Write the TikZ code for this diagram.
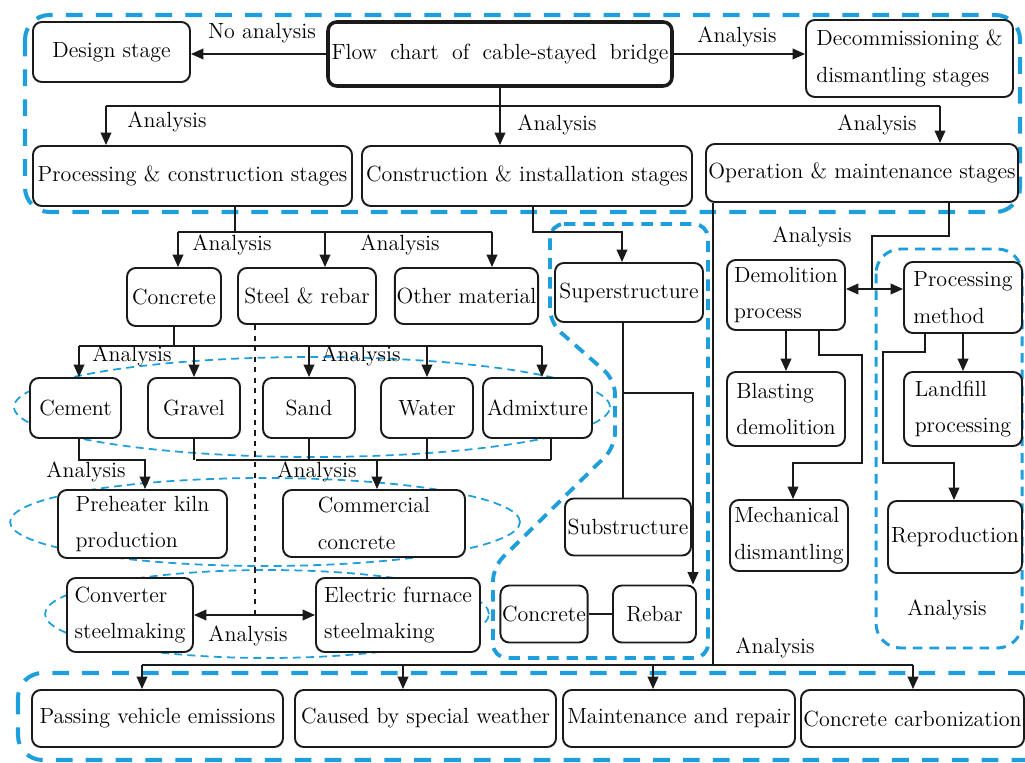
\documentclass[tikz,border=0pt]{standalone}
\usepackage{xcolor}
\usepackage{tikz}
\usetikzlibrary{arrows.meta}
\definecolor{DashBlue}{HTML}{1E9FDB}
\definecolor{InkBlack}{HTML}{1A1A1A}

\tikzset{
  box/.style={draw=InkBlack, line width=1.1pt, rounded corners=5pt, fill=white,
              inner sep=1pt, align=center},
  sz/.style 2 args={minimum width={#1*0.02cm}, minimum height={#2*0.02cm}},
  ln/.style={draw=InkBlack, line width=1pt},
  arr/.style={ln, -{Triangle[length=7pt,width=6pt]}},
  arrb/.style={ln, {Triangle[length=7pt,width=6pt]}-{Triangle[length=7pt,width=6pt]}},
  bigdash/.style={draw=DashBlue, line width=2.3pt, dash pattern=on 9.5pt off 7.5pt,
                  rounded corners=14pt},
  polydash/.style={draw=DashBlue, line width=2.2pt, dash pattern=on 6.5pt off 4.5pt,
                   rounded corners=8pt},
  middash/.style={draw=DashBlue, line width=1.7pt, dash pattern=on 5.5pt off 4pt,
                  rounded corners=14pt},
  thindash/.style={draw=DashBlue, line width=1pt, dash pattern=on 4.5pt off 3pt},
  lbl/.style={inner sep=0pt}
}

\begin{document}
\begin{tikzpicture}[x=0.02cm, y=-0.02cm, font=\fontsize{12.5}{21}\selectfont]
  \useasboundingbox (0,0) rectangle (1025,763);

  % blue groups
  \draw[bigdash] (25,15) rectangle (1020,212);
  \draw[bigdash] (18,673) rectangle (1060,760);
  \draw[polydash] (550,224) -- (708,224) -- (708,658) -- (493,658) -- (493,567)
    -- (615,447) -- (615,380) -- (550,323) -- cycle;
  \draw[middash] (876,249) rectangle (1022,648);
  \draw[thindash] (312,407) ellipse [x radius=5.96cm, y radius=1cm];
  \draw[thindash] (265,522) ellipse [x radius=5.1cm, y radius=0.88cm];
  \draw[thindash] (267,614) ellipse [x radius=4.44cm, y radius=0.88cm];

  % top stages
  \node[box, sz={157}{60}] (design) at (111.5,52) {Design stage};
  \node[box, sz={344}{64}, line width=2pt] (flow) at (500,54)
    {\spaceskip=0.6em Flow chart of cable-stayed bridge};
  \node[box, sz={207}{77}, align=left] (decom) at (909.5,58.5)
    {Decommissioning \&\\dismantling stages};
  \node[box, sz={319}{60}] (proc) at (192.5,176) {Processing \& construction stages};
  \node[box, sz={330}{60}] (cons) at (527,176) {Construction \& installation stages};
  \node[box, sz={312}{58}] (oper) at (862,173) {Operation \& maintenance stages};

  % materials
  \node[box, sz={94}{58}] (concA) at (174,297) {Concrete};
  \node[box, sz={138}{56}] (steel) at (307,296) {Steel \& rebar};
  \node[box, sz={143}{56}] (other) at (466.5,296) {Other material};
  \node[box, sz={148}{59}] (super) at (629,292.5) {Superstructure};

  \node[box, sz={91}{60}] (cement) at (75.5,408) {Cement};
  \node[box, sz={92}{60}] (gravel) at (194,408) {Gravel};
  \node[box, sz={92}{60}] (sand) at (309,408) {Sand};
  \node[box, sz={92}{60}] (water) at (427,408) {Water};
  \node[box, sz={109}{60}] (admix) at (537.5,408) {Admixture};

  \node[box, sz={169}{68}, align=left] (preheat) at (142.5,524) {Preheater kiln\\production};
  \node[box, sz={182}{67}, align=left] (commer) at (374,523.5) {Commercial\\concrete};
  \node[box, sz={126}{74}, align=left] (conv) at (130,615) {Converter\\steelmaking};
  \node[box, sz={164}{74}, align=left] (elec) at (398,615) {Electric furnace\\steelmaking};

  \node[box, sz={126}{57}] (subs) at (628,527) {Substructure};
  \node[box, sz={86}{57}] (concB) at (544,614) {Concrete};
  \node[box, sz={83}{57}] (rebar) at (654.5,614) {Rebar};

  % end of life
  \node[box, sz={118}{70}, align=left] (demol) at (786,295) {Demolition\\process};
  \node[box, sz={118}{71}, align=left] (pmeth) at (963,297.5) {Processing\\method};
  \node[box, sz={118}{74}, align=left] (blast) at (786,409) {Blasting\\demolition};
  \node[box, sz={118}{74}, align=left] (landf) at (963,409) {Landfill\\processing};
  \node[box, sz={118}{71}, align=left] (mech) at (789,535.5) {Mechanical\\dismantling};
  \node[box, sz={134}{72}] (repro) at (955,537) {Reproduction};

  % operation effects
  \node[box, sz={251}{57}] (passing) at (157.5,718.5) {Passing vehicle emissions};
  \node[box, sz={261}{57}] (caused) at (425.5,718.5) {Caused by special weather};
  \node[box, sz={232}{57}] (maint) at (679,718.5) {Maintenance and repair};
  \node[box, sz={223}{57}] (carbon) at (912.5,718.5) {Concrete carbonization};

  % top connectors
  \draw[arr] (flow.west) -- (flow.west -| design.east);
  \draw[arr] (flow.east) -- (flow.east -| decom.west);
  \coordinate (t1) at (106,106);
  \coordinate (t2) at (940,106);
  \draw[ln] (t1) -- (t2);
  \draw[arr] (t1) -- (t1 |- proc.north);
  \draw[arr] (flow.south) -- (flow.south |- cons.north);
  \draw[arr] (t2) -- (t2 |- oper.north);

  % materials connectors
  \coordinate (p1) at (235,232);
  \coordinate (m1) at (178,232);
  \coordinate (m2) at (492,232);
  \coordinate (m3) at (325,232);
  \draw[ln] (p1 |- proc.south) -- (p1);
  \draw[ln] (m1) -- (m2);
  \draw[arr] (m1) -- (m1 |- concA.north);
  \draw[arr] (m3) -- (m3 |- steel.north);
  \draw[arr] (m2) -- (m2 |- other.north);
  \coordinate (c1) at (533,232);
  \coordinate (c2) at (622,232);
  \draw[arr] (c1 |- cons.south) -- (c1) -- (c2) -- (c2 |- super.north);

  \coordinate (r1) at (79,346);
  \coordinate (r2) at (542,346);
  \draw[ln] (concA.south) -- (concA.south |- r1);
  \draw[ln] (r1) -- (r2);
  \draw[arr] (r1) -- (r1 |- cement.north);
  \foreach \n in {gravel,sand,water}
    \draw[arr] (\n.north |- r1) -- (\n.north);
  \draw[arr] (r2) -- (r2 |- admix.north);

  \coordinate (q1) at (79,460);
  \coordinate (q2) at (145,460);
  \draw[arr] (q1 |- cement.south) -- (q1) -- (q2) -- (q2 |- preheat.north);
  \coordinate (q3) at (196,460);
  \coordinate (q4) at (551,460);
  \coordinate (q5) at (377,460);
  \draw[ln] (q3) -- (q4);
  \foreach \n in {gravel,sand,water}
    \draw[ln] (\n.south) -- (\n.south |- q3);
  \draw[ln] (q4 |- admix.south) -- (q4);
  \draw[arr] (q5) -- (q5 |- commer.north);

  \coordinate (s1) at (255,615);
  \draw[ln, dashed] (s1 |- steel.south) -- (s1);
  \draw[arrb] (conv.east) -- (elec.west);

  % structure connectors
  \coordinate (u1) at (623,393);
  \coordinate (u2) at (693,393);
  \draw[ln] (u1 |- super.south) -- (u1 |- subs.north);
  \draw[arr] (u1) -- (u2) -- (u2 |- rebar.north);
  \draw[ln] (concB.east) -- (rebar.west);

  % end of life connectors
  \coordinate (o1) at (949,236);
  \coordinate (o2) at (872,236);
  \coordinate (o3) at (872,289);
  \draw[ln] (o1 |- oper.south) -- (o1) -- (o2) -- (o3);
  \draw[arrb] (demol.east |- o3) -- (pmeth.west |- o3);
  \draw[arr] (demol.south) -- (blast.north);
  \draw[arr] (pmeth.south) -- (landf.north);
  \coordinate (d1) at (819,355);
  \coordinate (d2) at (862,355);
  \coordinate (d3) at (862,463);
  \coordinate (d4) at (793,463);
  \draw[arr] (d1 |- demol.south) -- (d1) -- (d2) -- (d3) -- (d4) -- (d4 |- mech.north);
  \coordinate (e1) at (925,352);
  \coordinate (e2) at (883,352);
  \coordinate (e3) at (883,463);
  \coordinate (e4) at (954,463);
  \draw[arr] (e1 |- pmeth.south) -- (e1) -- (e2) -- (e3) -- (e4) -- (e4 |- repro.north);

  % bottom connectors
  \coordinate (v1) at (713,665);
  \coordinate (w1) at (142,665);
  \coordinate (w2) at (913,665);
  \draw[ln] (v1 |- oper.south) -- (v1);
  \draw[ln] (w1) -- (w2);
  \foreach \n/\x in {passing/142, caused/403, maint/653, carbon/913} {
    \coordinate (a\n) at (\x,665);
    \draw[arr] (a\n) -- (a\n |- \n.north);
  }

  % labels
  \node[lbl] (l1) at (262,33) {No analysis};
  \node[lbl] (l2) at (737,37) {Analysis};
  \node[lbl] (l3) at (167,122) {Analysis};
  \node[lbl] (l4) at (557,125) {Analysis};
  \node[lbl] (l5) at (877,125) {Analysis};
  \node[lbl] (l6) at (232,245) {Analysis};
  \node[lbl] (l7) at (400,245) {Analysis};
  \node[lbl] (l8) at (132,356) {Analysis};
  \node[lbl] (l9) at (361,356) {Analysis};
  \node[lbl] (l10) at (86,472) {Analysis};
  \node[lbl] (l11) at (317,472) {Analysis};
  \node[lbl] (l12) at (248,636) {Analysis};
  \node[lbl] (l13) at (812,237) {Analysis};
  \node[lbl] (l14) at (947,610) {Analysis};
  \node[lbl] (l15) at (775,648) {Analysis};
\end{tikzpicture}
\end{document}
